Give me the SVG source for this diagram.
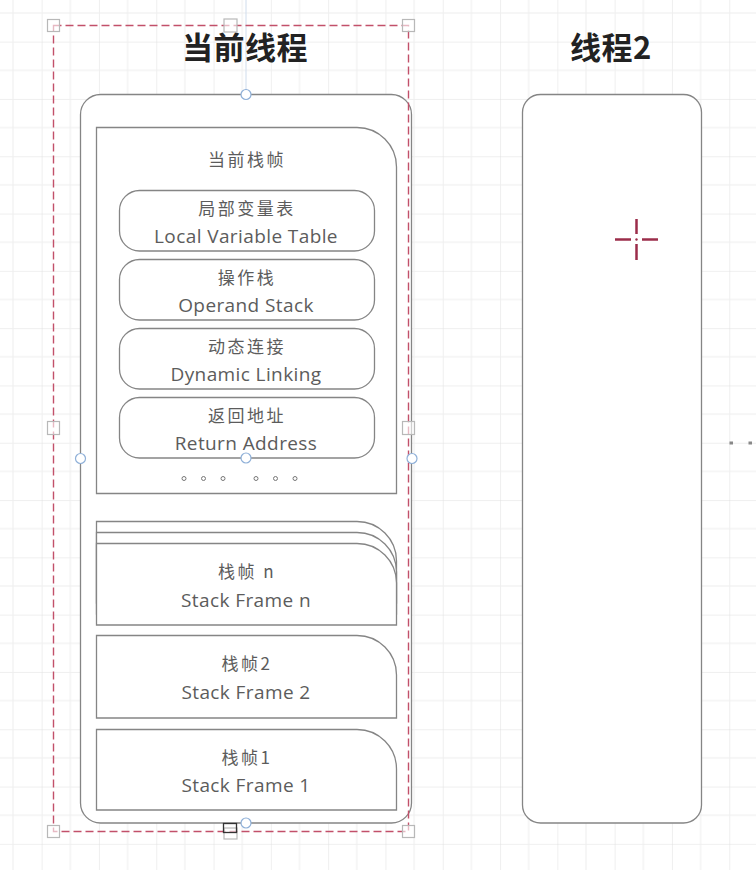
<svg xmlns="http://www.w3.org/2000/svg" width="756" height="870" viewBox="0 0 756 870">
<defs>
<pattern id="grid" x="-15.65" y="-15.65" width="57.3" height="57.3" patternUnits="userSpaceOnUse">
<path d="M0 0H57.3M0 0V57.3" stroke="#e0e0e0" stroke-width="1" fill="none"/>
<path d="M0 28.65H57.3M28.65 0V57.3" stroke="#eeeeee" stroke-width="1" fill="none"/>
</pattern>
<style>
.box{fill:#fff;stroke:#858585;stroke-width:1.3}
.cn{font-family:"Noto Sans CJK SC","Open Sans",sans-serif;font-size:17px;fill:#5c5c5c;text-anchor:middle;letter-spacing:2.5px}
.en{font-family:"Open Sans","Noto Sans CJK SC",sans-serif;font-size:19px;fill:#5c5c5c;text-anchor:middle;letter-spacing:0.4px}
.title{font-family:"Noto Sans CJK SC",sans-serif;font-size:31px;font-weight:bold;fill:#222;text-anchor:middle;letter-spacing:0.5px}
.handle{fill:#fff;fill-opacity:0.6;stroke:#b8b8b8;stroke-width:1.2}
.anchor{fill:#fff;stroke:#8fb0d8;stroke-width:1.2}
.dot{fill:none;stroke:#777;stroke-width:1}
.cross{stroke:#9b2d4a;stroke-width:2.5;fill:none}
</style>
</defs>
<rect width="756" height="870" fill="#fff"/>
<rect width="756" height="870" fill="url(#grid)"/>
<line x1="246" y1="0" x2="246" y2="94" stroke="#cfdcec" stroke-width="1"/>

<g id="title-current"><text class="title" x="245" y="59">当前线程</text></g>
<g id="title-thread2"><text class="title" x="611" y="59">线程2</text></g>

<g id="thread-current">
<rect class="box" x="80.5" y="94.5" width="331" height="728.5" rx="20" ry="20"/>
</g>

<g id="current-frame">
<path class="box" d="M96.5 493.5V127.5H357A39.5 39.5 0 0 1 396.5 167V493.5Z"/>
<text class="cn" x="247" y="166">当前栈帧</text>
</g>

<g id="local-variable-table">
<rect class="box" x="119.5" y="190.5" width="255" height="60.5" rx="20" ry="20"/>
<text class="cn" x="247" y="215">局部变量表</text>
<text class="en" x="246" y="243">Local Variable Table</text>
</g>
<g id="operand-stack">
<rect class="box" x="119.5" y="259.5" width="255" height="60.5" rx="20" ry="20"/>
<text class="cn" x="247" y="284">操作栈</text>
<text class="en" x="246" y="312">Operand Stack</text>
</g>
<g id="dynamic-linking">
<rect class="box" x="119.5" y="328.5" width="255" height="60.5" rx="20" ry="20"/>
<text class="cn" x="247" y="353">动态连接</text>
<text class="en" x="246" y="381">Dynamic Linking</text>
</g>
<g id="return-address">
<rect class="box" x="119.5" y="397.5" width="255" height="60.5" rx="20" ry="20"/>
<text class="cn" x="247" y="422">返回地址</text>
<text class="en" x="246" y="450">Return Address</text>
</g>
<g id="ellipsis">
<circle class="dot" cx="184" cy="478.5" r="2"/>
<circle class="dot" cx="203.5" cy="478.5" r="2"/>
<circle class="dot" cx="223" cy="478.5" r="2"/>
<circle class="dot" cx="256" cy="478.5" r="2"/>
<circle class="dot" cx="275.5" cy="478.5" r="2"/>
<circle class="dot" cx="295" cy="478.5" r="2"/>
</g>

<g id="stack-frame-n">
<path class="box" d="M96.5 603V521.5H357A39.5 39.5 0 0 1 396.5 561V603Z"/>
<path class="box" d="M96.5 614V532.5H357A39.5 39.5 0 0 1 396.5 572V614Z"/>
<path class="box" d="M96.5 625V543.5H357A39.5 39.5 0 0 1 396.5 583V625Z"/>
<text class="cn" x="247" y="578">栈帧 n</text>
<text class="en" x="246" y="607">Stack Frame n</text>
</g>
<g id="stack-frame-2">
<path class="box" d="M96.5 718V635.5H357A39.5 39.5 0 0 1 396.5 675V718Z"/>
<text class="cn" x="247" y="670">栈帧2</text>
<text class="en" x="246" y="699">Stack Frame 2</text>
</g>
<g id="stack-frame-1">
<path class="box" d="M96.5 810V729.5H357A39.5 39.5 0 0 1 396.5 769V810Z"/>
<text class="cn" x="247" y="764">栈帧1</text>
<text class="en" x="246" y="792">Stack Frame 1</text>
</g>

<g id="thread-2">
<rect class="box" x="522.5" y="94.5" width="179" height="728.5" rx="18" ry="18"/>
</g>

<g id="selection">
<rect x="53.5" y="25.5" width="355" height="806" fill="none" stroke="#c2506a" stroke-width="1.4" stroke-dasharray="8 4"/>
<rect class="handle" x="47.5" y="19.5" width="12" height="12"/>
<rect class="handle" x="224" y="19" width="13" height="13"/>
<rect class="handle" x="402.5" y="19.5" width="12" height="12"/>
<rect class="handle" x="47.5" y="421.5" width="12" height="13"/>
<rect class="handle" x="402.5" y="421.5" width="12" height="13"/>
<rect class="handle" x="47.5" y="825.5" width="12" height="12"/>
<rect class="handle" x="224" y="828" width="13" height="11"/>
<rect x="223.5" y="823.5" width="13" height="9" fill="none" stroke="#333" stroke-width="1.3"/>
<rect class="handle" x="402.5" y="825.5" width="12" height="12"/>
<circle class="anchor" cx="246" cy="94.5" r="5"/>
<circle class="anchor" cx="80.5" cy="458.5" r="5"/>
<circle class="anchor" cx="412" cy="458.5" r="5"/>
<circle class="anchor" cx="246" cy="458" r="5"/>
<circle class="anchor" cx="246" cy="823" r="5"/>
</g>

<g id="connectors">
<line class="cross" x1="615" y1="239.5" x2="631" y2="239.5"/>
<line class="cross" x1="642" y1="239.5" x2="658" y2="239.5"/>
<line class="cross" x1="636.5" y1="219" x2="636.5" y2="234"/>
<line class="cross" x1="636.5" y1="244" x2="636.5" y2="260"/>
<circle cx="636.5" cy="239.5" r="1.2" fill="#9b2d4a"/>
<rect x="729.5" y="441.5" width="3.5" height="3" fill="#888"/>
<rect x="748.5" y="441.5" width="3.5" height="3" fill="#888"/>
</g>
</svg>
